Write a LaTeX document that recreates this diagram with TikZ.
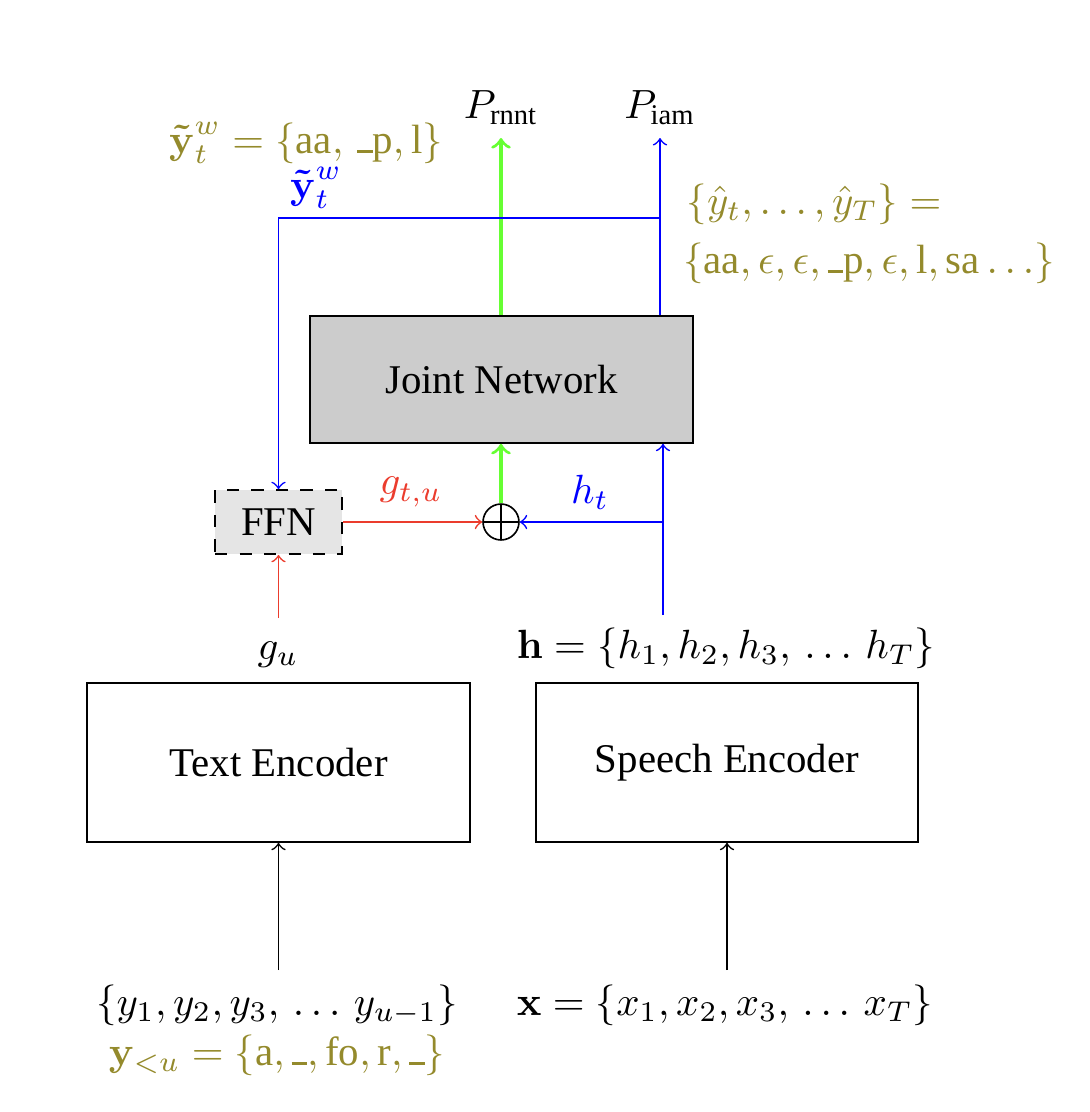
\documentclass[tikz,border=0pt]{standalone}
\usepackage{amsmath,amssymb}
\usepackage[no-math]{fontspec}
\setmainfont{Liberation Serif}
\definecolor{olivec}{RGB}{148,138,44}
\definecolor{redc}{RGB}{235,60,45}
\definecolor{greenc}{RGB}{102,255,51}
\newcommand{\ubarx}{\rule{0.38em}{0.09em}}
\begin{document}
\begin{tikzpicture}[x=0.245pt,y=-0.245pt,
  box/.style={draw,thin,rectangle,inner sep=0pt,font=\normalsize},
  lbl/.style={inner sep=0pt},
  garrow/.style={->,greenc,line width=0.8pt},
  barrow/.style={->,blue,thin},
  rarrow/.style={->,redc,thin},
  karrow/.style={->,black,thin}]
\useasboundingbox (0,0) rectangle (1090,1112);
% boxes
\node[box,fill=black!20,minimum width=93.8pt,minimum height=31.1pt] (joint) at (501.5,379.5) {Joint Network};
\node[box,dashed,fill=black!10,minimum width=31.1pt,minimum height=15.7pt] (ffn) at (278.5,522) {FFN};
\node[draw,thin,circle,minimum size=8.8pt,inner sep=0pt,
  path picture={\draw[thin] (path picture bounding box.north) -- (path picture bounding box.south)
  (path picture bounding box.west) -- (path picture bounding box.east);}] (oplus) at (501,522) {};
\node[box,minimum width=93.8pt,minimum height=38.95pt] (text) at (278.5,762.5) {Text Encoder};
\node[box,minimum width=93.6pt,minimum height=38.95pt] (speech) at (727,762.5) {Speech Encoder};
% labels
\node[lbl,anchor=base] (prnnt) at (501,118) {$P_{\text{rnnt}}$};
\node[lbl,anchor=base] (piam) at (660,118) {$P_{\text{iam}}$};
\node[lbl,olivec] (ytw) at (306,143) {$\boldsymbol{\tilde{\mathbf{y}}}_t^w=\{\text{aa},\,\text{\ubarx p},\text{l}\}$};
\node[lbl,blue] (ytwb) at (316,188) {$\boldsymbol{\tilde{\mathbf{y}}}_t^w$};
\node[lbl,olivec] (yhat1) at (814,204) {$\{\hat{y}_t,\ldots,\hat{y}_T\}=$};
\node[lbl,olivec] (yhat2) at (869,263) {$\{\text{aa},\epsilon,\epsilon,\text{\ubarx p},\epsilon,\text{l},\text{sa}\ldots\}$};
\node[lbl,redc] (gtu) at (411,492) {$g_{t,u}$};
\node[lbl,blue] (ht) at (590,492) {$h_t$};
\node[lbl] (hseq) at (726,648) {$\mathbf{h}=\{h_1,h_2,h_3,\,\ldots\,h_T\}$};
\node[lbl] (gu) at (278,655) {$g_u$};
\node[lbl] (yseq) at (277,1005) {$\{y_1,y_2,y_3,\,\ldots\,y_{u-1}\}$};
\node[lbl,olivec] (yltu) at (277,1055) {$\mathbf{y}_{<u}=\{\text{a},\text{\ubarx},\text{fo},\text{r},\text{\ubarx}\}$};
\node[lbl] (xseq) at (725,1005) {$\mathbf{x}=\{x_1,x_2,x_3,\,\ldots\,x_T\}$};
% coordinates
\coordinate (rnnttop) at (501,138);
\coordinate (iamtop) at (660,138);
\coordinate (br) at (660,218);
\coordinate (hb) at (663,615);
\coordinate (gstart) at (278.5,618);
\coordinate (tin) at (278.5,970);
\coordinate (sin) at (727,970);
% connectors
\draw[garrow] (joint.north -| rnnttop) -- (rnnttop);
\draw[barrow] (joint.north -| iamtop) -- (iamtop);
\draw[barrow] (br) -| (ffn.north);
\draw[garrow] (oplus.north) -- (oplus.north |- joint.south);
\draw[barrow] (hb) -- (hb |- joint.south);
\draw[barrow] (hb |- oplus) -- (oplus.east);
\draw[rarrow] (ffn.east) -- (oplus.west);
\draw[rarrow] (gstart) -- (ffn.south);
\draw[karrow] (tin) -- (text.south);
\draw[karrow] (sin) -- (speech.south);
\end{tikzpicture}
\end{document}
